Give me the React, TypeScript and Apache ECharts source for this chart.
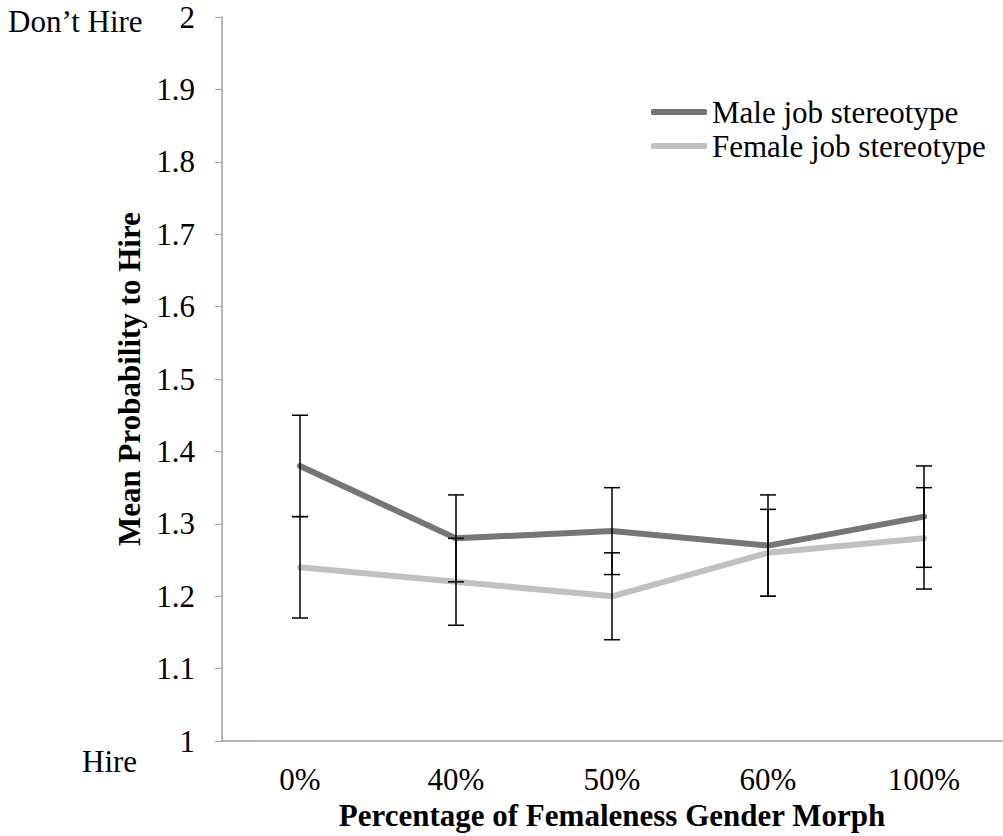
import React, { useEffect, useRef } from "react";
import * as echarts from "echarts";

const categories = ["0%", "40%", "50%", "60%", "100%"];
const maleMeans = [1.38, 1.28, 1.29, 1.27, 1.31];
const femaleMeans = [1.24, 1.22, 1.2, 1.26, 1.28];
const maleLow = [1.31, 1.22, 1.23, 1.2, 1.24];
const maleHigh = [1.45, 1.34, 1.35, 1.34, 1.38];
const femaleLow = [1.17, 1.16, 1.14, 1.2, 1.21];
const femaleHigh = [1.31, 1.28, 1.26, 1.32, 1.35];
const yMin = 1;
const yMax = 2;
const yStep = 0.1;

const FONT = "'Liberation Serif', 'Times New Roman', serif";
const AXIS_GRAY = "#a0a0a0";

function errorRender(params: any, api: any) {
  const x = api.value(0);
  const lo = api.coord([x, api.value(1)]);
  const hi = api.coord([x, api.value(2)]);
  const cap = 8;
  const style = { stroke: "#000", lineWidth: 1.5 };
  return {
    type: "group",
    children: [
      { type: "line", shape: { x1: lo[0], y1: lo[1], x2: hi[0], y2: hi[1] }, style },
      { type: "line", shape: { x1: lo[0] - cap, y1: lo[1], x2: lo[0] + cap, y2: lo[1] }, style },
      { type: "line", shape: { x1: hi[0] - cap, y1: hi[1], x2: hi[0] + cap, y2: hi[1] }, style },
    ],
  };
}

export default function App() {
  const ref = useRef<HTMLDivElement>(null);
  useEffect(() => {
    if (!ref.current) return;
    const chart = echarts.init(ref.current, null, { renderer: "svg" });
    const maleErr = categories.map((_, i) => [i, maleLow[i], maleHigh[i]]);
    const femaleErr = categories.map((_, i) => [i, femaleLow[i], femaleHigh[i]]);
    chart.setOption({
      animation: false,
      backgroundColor: "#fff",
      textStyle: { fontFamily: FONT },
      grid: { left: 222, right: 1, top: 17, bottom: 79, containLabel: false },
      legend: {
        orient: "vertical",
        left: 646,
        top: 90,
        itemWidth: 56,
        itemHeight: 6,
        itemGap: 0,
        icon: "roundRect",
        textStyle: { fontFamily: FONT, fontSize: 31, color: "#000", lineHeight: 34 },
        data: ["Male job stereotype", "Female job stereotype"],
      },
      xAxis: {
        type: "category",
        data: categories,
        boundaryGap: true,
        axisLine: { lineStyle: { color: AXIS_GRAY, width: 1.5 } },
        axisTick: { inside: true, length: 5, alignWithLabel: true, lineStyle: { color: AXIS_GRAY } },
        axisLabel: { fontFamily: FONT, fontSize: 31, color: "#000", margin: 23 },
        name: "Percentage of Femaleness Gender Morph",
        nameLocation: "middle",
        nameGap: 47,
        nameTextStyle: { fontFamily: FONT, fontSize: 31, fontWeight: "bold", color: "#000" },
      },
      yAxis: {
        type: "value",
        min: yMin,
        max: yMax,
        interval: yStep,
        splitLine: { show: false },
        axisLine: { show: true, lineStyle: { color: AXIS_GRAY, width: 1.5 } },
        axisTick: { show: true, length: 7, lineStyle: { color: AXIS_GRAY } },
        axisLabel: {
          fontFamily: FONT,
          fontSize: 31,
          color: "#000",
          margin: 27,
          padding: [10, 0, 0, 0],
          formatter: (v: number) => String(Math.round(v * 10) / 10),
        },
        name: "Mean Probability to Hire",
        nameLocation: "middle",
        nameGap: 73,
        nameTextStyle: { fontFamily: FONT, fontSize: 31, fontWeight: "bold", color: "#000" },
      },
      graphic: [
        {
          type: "text",
          left: 8,
          top: 6,
          style: { text: "Don\u2019t Hire", font: `31px ${FONT}`, fill: "#000" },
        },
        {
          type: "text",
          left: 82,
          top: 746,
          style: { text: "Hire", font: `31px ${FONT}`, fill: "#000" },
        },
      ],
      series: [
        {
          name: "Male job stereotype",
          type: "line",
          data: maleMeans,
          symbol: "none",
          itemStyle: { color: "#767676" },
          lineStyle: { color: "#767676", width: 6, cap: "round", join: "round" },
          z: 2,
        },
        {
          name: "Female job stereotype",
          type: "line",
          data: femaleMeans,
          symbol: "none",
          itemStyle: { color: "#c0c0c0" },
          lineStyle: { color: "#c0c0c0", width: 6, cap: "round", join: "round" },
          z: 2,
        },
        {
          type: "custom",
          renderItem: errorRender,
          data: maleErr,
          encode: { x: 0, y: [1, 2] },
          z: 3,
          silent: true,
        },
        {
          type: "custom",
          renderItem: errorRender,
          data: femaleErr,
          encode: { x: 0, y: [1, 2] },
          z: 3,
          silent: true,
        },
      ],
    });
    return () => chart.dispose();
  }, []);
  return (
    <div
      ref={ref}
      style={{ position: "fixed", left: 0, top: 0, width: 1003, height: 836, background: "#fff" }}
    />
  );
}
